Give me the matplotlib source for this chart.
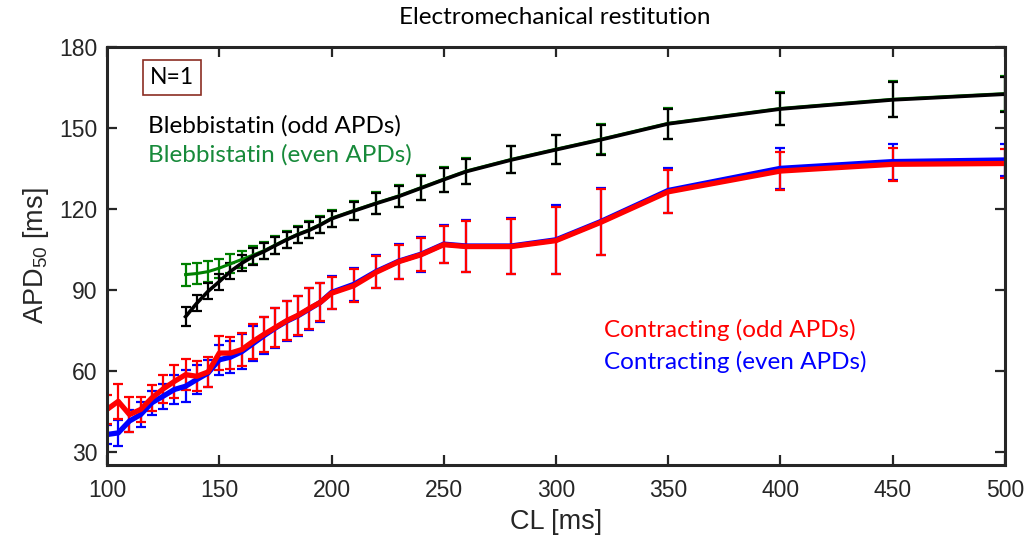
#!/usr/bin/env python3
"""Electromechanical restitution: APD50 vs cycle length."""

import matplotlib

matplotlib.use("Agg")
import matplotlib.pyplot as plt  # noqa: E402

# cycle lengths [ms]
CL_ALL = [100, 105, 110, 115, 120, 125, 130, 135, 140, 145, 150, 155, 160,
          165, 170, 175, 180, 185, 190, 195, 200, 210, 220, 230, 240, 250,
          260, 280, 300, 320, 350, 400, 450, 500]
CL_BLEB = CL_ALL[7:]

# contracting, odd APDs
red_apd = [45.6, 48.6, 43.7, 45.6, 49.9, 53.2, 56.0, 58.5, 57.9, 59.5, 66.5,
           66.5, 67.8, 70.8, 73.5, 76.0, 78.5, 80.5, 83.0, 85.3, 88.7, 91.5,
           96.5, 100.4, 103.0, 106.7, 106.0, 106.0, 108.2, 115.0, 126.3,
           134.0, 136.5, 136.8]
red_err = [5.3, 6.5, 6.6, 4.7, 4.7, 5.2, 6.0, 5.8, 5.5, 5.5, 6.2, 6.0, 6.0,
           6.5, 6.5, 7.3, 7.3, 7.3, 7.6, 7.0, 6.0, 6.0, 6.0, 6.3, 6.2, 6.8,
           9.5, 10.3, 12.5, 12.2, 8.0, 7.0, 6.2, 5.2]

# contracting, even APDs
blue_apd = [36.3, 36.9, 41.3, 43.7, 48.1, 50.5, 53.0, 54.2, 56.7, 59.1, 64.0,
            65.0, 67.0, 70.0, 73.0, 75.8, 78.3, 80.3, 82.8, 85.3, 89.0, 92.0,
            96.8, 100.6, 103.2, 106.9, 106.2, 106.2, 108.5, 115.3, 126.8,
            135.0, 137.5, 138.1]
blue_err = [3.5, 4.8, 4.0, 4.5, 4.5, 4.6, 5.5, 6.0, 5.5, 5.0, 5.5, 6.0, 6.5,
            6.5, 6.8, 7.5, 7.5, 7.5, 7.8, 7.2, 6.2, 6.2, 6.2, 6.5, 6.5, 7.0,
            9.5, 10.3, 12.8, 12.3, 8.2, 7.5, 6.7, 6.0]

# blebbistatin, odd APDs
black_apd = [80.0, 85.0, 89.4, 93.0, 96.8, 99.8, 102.3, 104.2, 106.4, 108.5,
             110.4, 112.0, 114.0, 116.3, 119.2, 122.0, 124.6, 127.7, 130.8,
             133.8, 138.1, 141.9, 145.6, 151.5, 157.0, 160.4, 162.5]
black_err = [3.4, 3.0, 3.0, 3.0, 3.0, 3.0, 3.0, 3.0, 3.0, 3.0, 3.0, 3.0, 3.0,
             3.0, 3.5, 3.9, 4.0, 4.4, 4.5, 4.6, 5.0, 5.3, 5.5, 5.6, 6.0, 6.5,
             6.5]

# blebbistatin, even APDs
green_apd = [95.6, 96.0, 96.7, 98.0, 99.6, 101.2, 102.8, 104.5, 106.6, 108.7,
             110.6, 112.2, 114.2, 116.5, 119.4, 122.2, 124.8, 127.9, 131.0,
             134.0, 138.3, 142.1, 145.8, 151.7, 157.2, 160.6, 162.7]
green_err = [4.1, 4.0, 4.0, 3.5, 3.5, 3.3, 3.3, 3.2, 3.2, 3.2, 3.2, 3.2, 3.2,
             3.2, 3.6, 4.0, 4.1, 4.5, 4.6, 4.7, 5.1, 5.4, 5.6, 5.7, 6.1, 6.6,
             6.6]

X_TICKS = [100, 150, 200, 250, 300, 350, 400, 450, 500]
Y_TICKS = [30, 60, 90, 120, 150, 180]

RED = "#FF0000"
BLUE = "#0000FF"
BLACK = "#000000"
GREEN = "#008000"
AXIS = "#262626"
TEXT_FONT = ["Lato", "DejaVu Sans"]

plt.rcParams.update(
    {
        "font.family": ["Liberation Sans", "DejaVu Sans"],
        "mathtext.fontset": "custom",
        "mathtext.rm": "Liberation Sans",
        "mathtext.it": "Liberation Sans:italic",
    }
)

fig = plt.figure(figsize=(10.3, 5.45), dpi=100)
ax = fig.add_axes([0.1039, 0.1468, 0.8718, 0.7670])

style = dict(elinewidth=1.6, capsize=3.6, capthick=1.6)
ax.errorbar(CL_ALL, blue_apd, yerr=blue_err, color=BLUE, lw=3.8, **style)
ax.errorbar(CL_ALL, red_apd, yerr=red_err, color=RED, lw=3.8, **style)
ax.errorbar(CL_BLEB, green_apd, yerr=green_err, color=GREEN, lw=2.2, **style)
ax.errorbar(CL_BLEB, black_apd, yerr=black_err, color=BLACK, lw=2.6, **style)

ax.set_xlim(100, 500)
ax.set_ylim(25, 180)
ax.set_xticks(X_TICKS)
ax.set_yticks(Y_TICKS)
ax.tick_params(
    direction="in", length=7, width=1.6, colors=AXIS, labelsize=16.5,
    top=True, right=True,
)
ax.tick_params(axis="x", pad=10)
ax.tick_params(axis="y", pad=7)
for spine in ax.spines.values():
    spine.set_linewidth(2.2)
    spine.set_color(AXIS)

ax.set_xlabel("CL [ms]", fontsize=19.5, color=AXIS, labelpad=5)
ax.set_ylabel(r"APD$_{\mathregular{50}}$ [ms]", fontsize=19.5, color=AXIS,
              labelpad=6)

fig.text(0.539, 0.967, "Electromechanical restitution", family=TEXT_FONT,
         fontsize=17.5, ha="center", va="center")

ax.text(0.0724, 0.927, "N=1", transform=ax.transAxes, family=TEXT_FONT,
        fontsize=16.5, ha="center", va="center",
        bbox=dict(boxstyle="square,pad=0.3", fc="white", ec="#8B2E22", lw=1.2))
ax.text(0.046, 0.811, "Blebbistatin (odd APDs)", transform=ax.transAxes,
        family=TEXT_FONT, fontsize=17.5, color=BLACK, va="center")
ax.text(0.046, 0.742, "Blebbistatin (even APDs)", transform=ax.transAxes,
        family=TEXT_FONT, fontsize=17.5, color="#178A3A", va="center")
ax.text(0.553, 0.323, "Contracting (odd APDs)", transform=ax.transAxes,
        family=TEXT_FONT, fontsize=17.5, color=RED, va="center")
ax.text(0.553, 0.246, "Contracting (even APDs)", transform=ax.transAxes,
        family=TEXT_FONT, fontsize=17.5, color=BLUE, va="center")

fig.savefig("out.png", dpi=100)
